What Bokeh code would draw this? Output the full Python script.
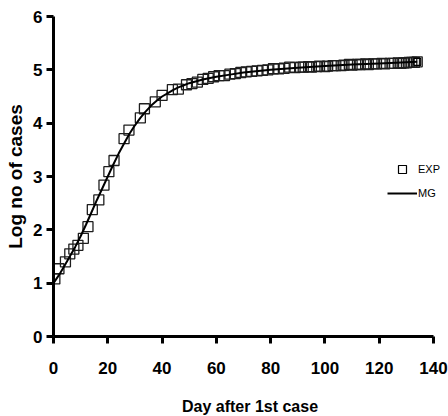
from bokeh.plotting import figure
from bokeh.models import Range1d, Legend, LegendItem, FixedTicker
from bokeh.embed import file_html
from bokeh.resources import INLINE

# Experimental data (day after 1st case, log number of cases)
exp_days = [0.5, 2, 4.4, 6, 7.5, 9, 11, 12.7, 14.3, 16.7, 18.6, 20.4, 22.3, 26, 27.8, 32, 33.5,
            37.5, 40, 43.8, 46, 49, 51, 53, 55, 57, 59, 61, 63, 65, 67, 69, 71, 73, 75, 77, 79,
            81, 83, 85, 87, 89, 91, 92, 94, 95, 97, 98, 100, 101, 103, 104, 106, 107, 109, 110,
            112, 113, 115, 116, 118, 119, 121, 122, 124, 125, 127, 128, 129, 130, 131, 132, 133, 134]
exp_log = [1.08, 1.27, 1.40, 1.55, 1.64, 1.71, 1.84, 2.06, 2.38, 2.56, 2.84, 3.09, 3.30, 3.71, 3.87, 4.10, 4.27,
           4.40, 4.52, 4.63, 4.64, 4.72, 4.74, 4.77, 4.82, 4.84, 4.87, 4.89, 4.89, 4.92, 4.93, 4.95, 4.96, 4.97, 4.98, 4.99, 5.00,
           5.02, 5.02, 5.03, 5.05, 5.04, 5.05, 5.05, 5.06, 5.05, 5.06, 5.07, 5.06, 5.07, 5.08, 5.08, 5.08, 5.09, 5.10, 5.09,
           5.10, 5.10, 5.11, 5.10, 5.11, 5.11, 5.12, 5.11, 5.12, 5.12, 5.13, 5.12, 5.13, 5.13, 5.14, 5.14, 5.14, 5.15]

# MG model fit curve
mg_days = [0, 2, 4, 6, 8, 10, 12, 14, 16, 18, 20, 22, 24, 26, 28, 30, 32, 34, 36, 38, 40, 42, 44, 46, 48,
           50, 55, 60, 65, 70, 80, 90, 100, 110, 120, 134]
mg_log = [1.00, 1.15, 1.32, 1.50, 1.68, 1.88, 2.10, 2.33, 2.56, 2.78, 3.00, 3.22, 3.43, 3.62, 3.80, 3.96,
          4.10, 4.22, 4.33, 4.42, 4.50, 4.56, 4.62, 4.67, 4.71, 4.75, 4.82, 4.87, 4.91, 4.95, 5.00, 5.04,
          5.07, 5.10, 5.12, 5.15]

x_ticks = [0, 20, 40, 60, 80, 100, 120, 140]
y_ticks = [0, 1, 2, 3, 4, 5, 6]

FONT = "Liberation Sans"

# x axis drawn from 0 to 140; frame extends a little further right so the legend fits
p = figure(frame_width=393, frame_height=320, output_backend="svg", toolbar_location=None,
           x_range=Range1d(0, 140 * 393 / 380), y_range=Range1d(0, 6),
           min_border_left=53, min_border_right=2, min_border_top=16, min_border_bottom=80)
p.grid.visible = False
p.outline_line_color = None
p.background_fill_color = "white"
p.border_fill_color = "white"

exp_r = p.scatter(exp_days, exp_log, marker="square", size=10, fill_color=None,
                  line_color="#1e1e1e", line_width=1.3)
mg_r = p.line(mg_days, mg_log, line_color="black", line_width=2)

# smaller square used only as the legend glyph (sits inside the last data marker)
leg_sq = p.scatter(exp_days[-1:], exp_log[-1:], marker="square", size=7, fill_color=None,
                   line_color="black", line_width=1.2)

for ax in (p.xaxis[0], p.yaxis[0]):
    ax.axis_line_width = 3
    ax.axis_line_color = "black"
    ax.major_tick_line_width = 3
    ax.major_tick_line_color = "black"
    ax.major_tick_out = 7
    ax.major_tick_in = 0
    ax.minor_tick_line_color = None
    ax.major_label_text_font = FONT
    ax.major_label_text_font_style = "bold"
    ax.major_label_text_font_size = "17px"
    ax.major_label_text_color = "black"
    ax.axis_label_text_font = FONT
    ax.axis_label_text_font_style = "bold"
    ax.axis_label_text_color = "black"

p.xaxis[0].bounds = (0, 140)
p.xaxis[0].ticker = FixedTicker(ticks=x_ticks)
p.yaxis[0].ticker = FixedTicker(ticks=y_ticks)
p.xaxis[0].axis_label = "Day after 1st case"
p.yaxis[0].axis_label = "Log no of cases"
p.xaxis[0].axis_label_text_font_size = "16px"
p.yaxis[0].axis_label_text_font_size = "19px"
p.xaxis[0].major_label_standoff = 18
p.xaxis[0].axis_label_standoff = 21
p.yaxis[0].major_label_standoff = 4
p.yaxis[0].axis_label_standoff = 4

legend = Legend(items=[LegendItem(label="EXP", renderers=[leg_sq]),
                       LegendItem(label="MG", renderers=[mg_r])],
                location=(334, 133))
legend.glyph_width = 30
legend.glyph_height = 20
legend.spacing = 4
legend.padding = 0
legend.margin = 0
legend.label_standoff = 1
legend.border_line_alpha = 0
legend.background_fill_alpha = 0
legend.label_text_font = FONT
legend.label_text_font_size = "11px"
legend.label_text_color = "black"
p.add_layout(legend, "center")

open("out.html", "w").write(file_html(p, INLINE))
